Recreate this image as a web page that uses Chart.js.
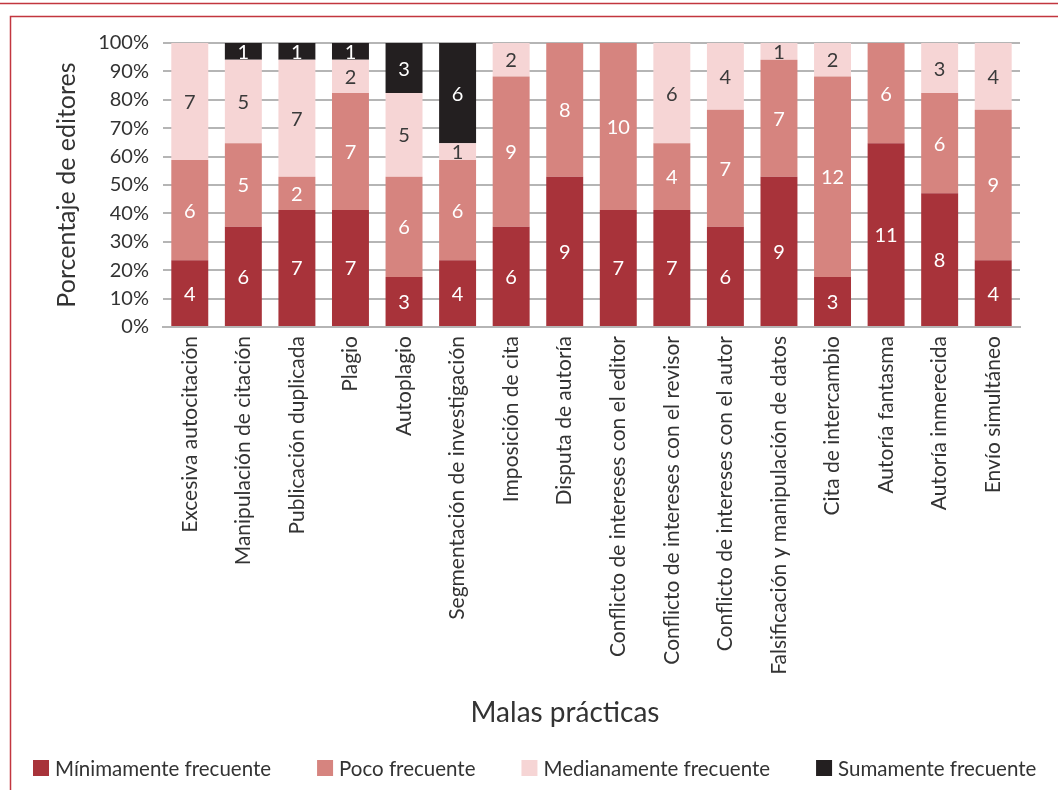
<!DOCTYPE html>
<html>
<head>
<meta charset="utf-8">
<script src="https://cdn.jsdelivr.net/npm/chart.js@4.4.0/dist/chart.umd.min.js"></script>
<style>
  body { margin: 0; background: #fff; }
</style>
</head>
<body>
<canvas id="practicas" width="1058" height="790"></canvas>
<script>
// malas prácticas y número de editores por frecuencia
const practicas = [
  'Excesiva autocitación', 'Manipulación de citación', 'Publicación duplicada', 'Plagio',
  'Autoplagio', 'Segmentación de investigación', 'Imposición de cita', 'Disputa de autoría',
  'Conflicto de intereses con el editor', 'Conflicto de intereses con el revisor',
  'Conflicto de intereses con el autor', 'Falsificación y manipulación de datos',
  'Cita de intercambio', 'Autoría fantasma', 'Autoría inmerecida', 'Envío simultáneo'
]
const minimamente  = [4, 6, 7, 7, 3, 4, 6, 9, 7, 7, 6, 9, 3, 11, 8, 4]
const poco         = [6, 5, 2, 7, 6, 6, 9, 8, 10, 4, 7, 7, 12, 6, 6, 9]
const medianamente = [7, 5, 7, 2, 5, 1, 2, 0, 0, 6, 4, 1, 2, 0, 3, 4]
const sumamente    = [0, 1, 1, 1, 3, 6, 0, 0, 0, 0, 0, 0, 0, 0, 0, 0]
const frecuencias = ['Mínimamente frecuente', 'Poco frecuente', 'Medianamente frecuente', 'Sumamente frecuente']
const yTicks = [0, 10, 20, 30, 40, 50, 60, 70, 80, 90, 100]

const colores = ['#a8333a', '#d6847f', '#f6d5d5', '#231f20']
const colorEtiqueta = ['#ffffff', '#ffffff', '#3a3a3a', '#ffffff']
const FONT = 'Lato, "Open Sans", sans-serif'

const series = [minimamente, poco, medianamente, sumamente]
const totales = practicas.map((_, i) => series.reduce((s, arr) => s + arr[i], 0))

// cada barra se normaliza a 100 %
const datasets = series.map((arr, k) => ({
  label: frecuencias[k],
  data: arr.map((v, i) => v / totales[i] * 100),
  conteos: arr,
  backgroundColor: colores[k],
  barPercentage: 0.69,
  categoryPercentage: 1
}))

// marco, títulos de ejes, leyenda y números dentro de las barras
const extras = {
  id: 'extras',
  beforeDraw(chart) {
    const ctx = chart.ctx
    ctx.save()
    ctx.strokeStyle = '#c2363f'
    ctx.lineWidth = 1.5
    ctx.beginPath()
    ctx.moveTo(0, 3.5); ctx.lineTo(1058, 3.5)
    ctx.moveTo(10.5, 790); ctx.lineTo(10.5, 16.5); ctx.lineTo(1058, 16.5)
    ctx.stroke()
    ctx.restore()
  },
  afterDatasetsDraw(chart) {
    const ctx = chart.ctx
    ctx.save()
    ctx.font = '20px ' + FONT
    ctx.textAlign = 'center'
    ctx.textBaseline = 'middle'
    chart.data.datasets.forEach((ds, k) => {
      chart.getDatasetMeta(k).data.forEach((bar, i) => {
        const n = ds.conteos[i]
        if (!n) return
        ctx.fillStyle = colorEtiqueta[k]
        ctx.fillText(String(n), bar.x, (bar.y + bar.base) / 2 + 1)
      })
    })
    ctx.restore()
  },
  afterDraw(chart) {
    const ctx = chart.ctx
    const area = chart.chartArea
    ctx.save()
    ctx.fillStyle = '#333'
    ctx.textBaseline = 'middle'
    ctx.textAlign = 'center'
    ctx.font = '25px ' + FONT
    ctx.translate(67, (area.top + area.bottom) / 2)
    ctx.rotate(-Math.PI / 2)
    ctx.fillText('Porcentaje de editores', 0, 0)
    ctx.setTransform(1, 0, 0, 1, 0, 0)
    ctx.font = '28px ' + FONT
    ctx.fillText('Malas prácticas', 565, 713)

    // leyenda
    ctx.font = '20.5px ' + FONT
    ctx.textAlign = 'left'
    let x = 33
    frecuencias.forEach((txt, k) => {
      ctx.fillStyle = colores[k]
      ctx.fillRect(x, 760, 16, 16)
      ctx.fillStyle = '#333'
      ctx.fillText(txt, x + 22, 769)
      x += 22 + ctx.measureText(txt).width + 46
    })
    ctx.restore()
  }
}

new Chart(document.getElementById('practicas'), {
  type: 'bar',
  data: { labels: practicas, datasets: datasets },
  options: {
    responsive: false,
    animation: false,
    devicePixelRatio: 1,
    layout: { padding: { top: 43, right: 38, bottom: 0, left: 0 } },
    plugins: { legend: { display: false }, tooltip: { enabled: false } },
    scales: {
      x: {
        stacked: true,
        grid: { display: false, drawTicks: false },
        border: { display: true, color: '#b5b5b5', width: 2 },
        ticks: {
          autoSkip: false, minRotation: 90, maxRotation: 90, padding: 9,
          color: '#333', font: { family: FONT, size: 21 }
        },
        afterFit(scale) { scale.height = 790 - 327 }
      },
      y: {
        stacked: true,
        min: 0, max: 100,
        afterBuildTicks(scale) { scale.ticks = yTicks.map(v => ({ value: v })) },
        grid: { color: '#b5b5b5', lineWidth: 2, drawTicks: false },
        border: { display: false },
        ticks: {
          padding: 14, color: '#333', font: { family: FONT, size: 20 },
          callback: v => v + '%'
        },
        afterFit(scale) { scale.width = 163 }
      }
    }
  },
  plugins: [extras]
})
</script>
</body>
</html>
